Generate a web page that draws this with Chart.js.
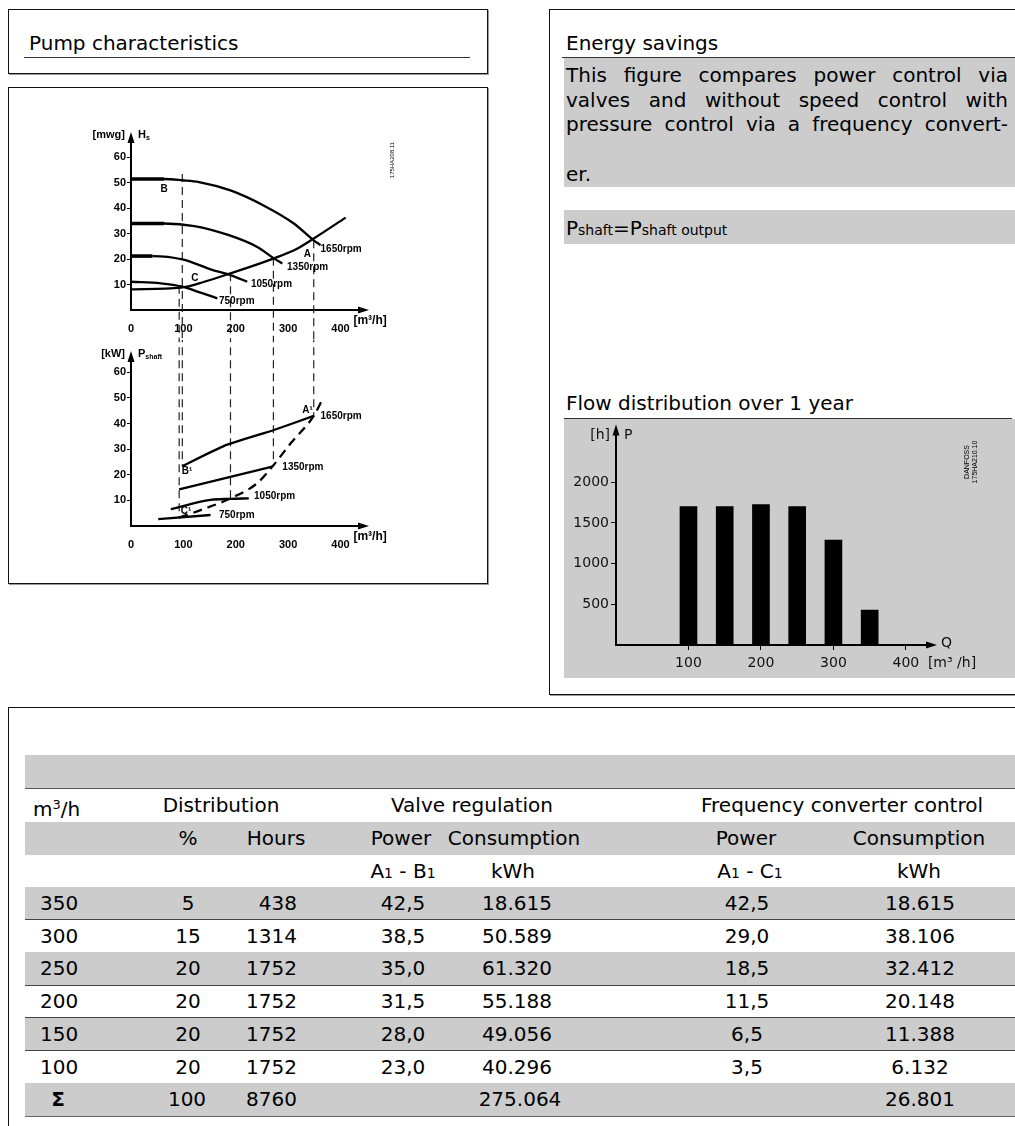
<!DOCTYPE html>
<html>
<head>
<meta charset="utf-8">
<script src="https://cdn.jsdelivr.net/npm/chart.js@4.4.1/dist/chart.umd.min.js"></script>
<style>
body { margin:0; background:#fff; font-family:"DejaVu Sans", Verdana, sans-serif; color:#000; width:1015px; height:1126px; overflow:hidden; position:relative; }
.box { position:absolute; border:1px solid #111; box-shadow:1px 1px 0 #999; }
.abs { position:absolute; white-space:nowrap; font-size:20px; line-height:24px; }
.just { position:absolute; font-size:20px; line-height:24px; text-align:justify; text-align-last:justify; }
.gray { position:absolute; background:#cccccc; }
.rule { position:absolute; height:1px; background:#333; }
.sm { font-size:14px; }
canvas { position:absolute; }
</style>
</head>
<body>

<div class="box" style="left:8px;top:9px;width:478px;height:63px"></div>
<div class="abs" style="left:29px;top:31px">Pump characteristics</div>
<div class="rule" style="left:24px;top:57px;width:446px"></div>

<div class="box" style="left:8px;top:87px;width:478px;height:495px"></div>
<canvas id="headChart" width="479" height="253" style="left:8px;top:87px"></canvas>
<canvas id="powerChart" width="479" height="243" style="left:8px;top:340px"></canvas>

<div class="box" style="left:549px;top:9px;width:480px;height:684px"></div>
<div class="abs" style="left:566px;top:31px">Energy savings</div>
<div class="rule" style="left:562px;top:57px;width:453px"></div>
<div class="gray" style="left:564px;top:58px;width:451px;height:129px"></div>
<div class="just" style="left:566px;top:63px;width:442px">This figure compares power control via</div>
<div class="just" style="left:566px;top:88px;width:442px">valves and without speed control with</div>
<div class="just" style="left:566px;top:112px;width:442px">pressure control via a frequency convert-</div>
<div class="abs" style="left:566px;top:162px">er.</div>
<div class="gray" style="left:564px;top:210px;width:451px;height:34px"></div>
<div class="abs" style="left:566px;top:216px">P<span class="sm">shaft</span>=P<span class="sm">shaft output</span></div>

<div class="abs" style="left:566px;top:391px">Flow distribution over 1 year</div>
<div class="rule" style="left:564px;top:418px;width:448px"></div>
<div class="gray" style="left:564px;top:419px;width:451px;height:259px"></div>
<canvas id="flowChart" width="451" height="259" style="left:564px;top:419px"></canvas>

<div class="box" style="left:8px;top:707px;width:1040px;height:460px"></div>
<div id="tbl"></div>

<script>
// pump head curves H [mwg] vs Q [m3/h]
const head1650 = [[0, 51.5], [63, 51.5], [98, 51], [130, 50.3], [190, 47], [254, 41], [311, 34], [349, 27.4], [362, 25.5]];
const head1350 = [[0, 34], [63, 34], [121, 33], [187, 29.4], [241, 24.8], [273, 20.3], [289, 18.3]];
const head1050 = [[0, 21.2], [41, 21.2], [98, 19.9], [152, 16], [190, 13.7], [222, 11.1]];
const head750 = [[0, 11.1], [57, 10.5], [98, 9.2], [133, 6.8], [165, 4.6]];
const systemHead = [[0, 8.1], [95, 8.8], [140, 11.1], [190, 14.4], [273, 20.3], [318, 24.2], [349, 28.1], [410, 36.3]];

// shaft power P [kW] vs Q [m3/h]
const power1650 = [[98, 23.4], [178, 31.3], [273, 37.5], [349, 43]];
const power1350 = [[92, 14.3], [270, 23.2]];
const power1050 = [[76, 6.6], [152, 10.2], [190, 10.6], [225, 10.8]];
const power750 = [[52, 2.7], [152, 4.3]];
const systemPower = [[92, 3.3], [133, 6.2], [190, 10.8], [241, 16.7], [270, 23.2], [305, 32.3], [349, 43], [367, 50]];

// operating points joined by the dashed verticals: [Q, H, P]
const opPoints = [[98, 53.5, 23.4], [92, 9.5, 3.3], [190, 14.4, 10.8], [272, 20.5, 23.2], [349, 27.4, 43]];

// axis ticks
const qTicks = [0, 100, 200, 300, 400];
const hTicks = [10, 20, 30, 40, 50, 60];
const flowQTicks = [100, 200, 300, 400];
const hourTicks = [500, 1000, 1500, 2000];

// flow distribution over 1 year
const flowQ = [100, 150, 200, 250, 300, 350];
const flowHours = [1700, 1700, 1725, 1700, 1290, 430];

// table
const tblFlow = ['350', '300', '250', '200', '150', '100'];
const tblPct = ['5', '15', '20', '20', '20', '20'];
const tblHours = ['438', '1314', '1752', '1752', '1752', '1752'];
const tblValvePower = ['42,5', '38,5', '35,0', '31,5', '28,0', '23,0'];
const tblValveKWh = ['18.615', '50.589', '61.320', '55.188', '49.056', '40.296'];
const tblFcPower = ['42,5', '29,0', '18,5', '11,5', '6,5', '3,5'];
const tblFcKWh = ['18.615', '38.106', '32.412', '20.148', '11.388', '6.132'];
const tblSum = ['100', '8760', '275.064', '26.801'];

const pts = arr => arr.map(p => ({ x: p[0], y: p[1] }));
const setTicks = list => s => { s.ticks = list.map(v => ({ value: v })); };
const chartFont = '"Liberation Sans", Arial, sans-serif';

function arrows(chart) {
    const ctx = chart.ctx, a = chart.chartArea;
    ctx.save();
    ctx.fillStyle = '#000';
    ctx.beginPath();
    ctx.moveTo(a.left, a.top - 5); ctx.lineTo(a.left - 3.5, a.top + 6); ctx.lineTo(a.left + 3.5, a.top + 6);
    ctx.fill();
    ctx.beginPath();
    ctx.moveTo(a.right + 5, a.bottom); ctx.lineTo(a.right - 6, a.bottom - 3.5); ctx.lineTo(a.right - 6, a.bottom + 3.5);
    ctx.fill();
    ctx.restore();
}

function tags(chart, list) {
    const ctx = chart.ctx, x = chart.scales.x, y = chart.scales.y;
    ctx.save();
    ctx.fillStyle = '#000';
    ctx.font = 'bold 10px ' + chartFont;
    ctx.textBaseline = 'middle';
    list.forEach(t => {
        ctx.textAlign = t[3] || 'center';
        ctx.fillText(t[0], x.getPixelForValue(t[1]), y.getPixelForValue(t[2]));
    });
    ctx.restore();
}

function vtext(ctx, lines, cx, cy, size) {
    ctx.save();
    ctx.translate(cx, cy);
    ctx.rotate(-Math.PI / 2);
    ctx.font = size + 'px ' + chartFont;
    ctx.fillStyle = '#000';
    ctx.textAlign = 'center';
    ctx.textBaseline = 'middle';
    lines.forEach((l, i) => ctx.fillText(l, 0, (i - (lines.length - 1) / 2) * (size + 1)));
    ctx.restore();
}

function curve(data, opts) {
    return Object.assign({ data: pts(data), borderColor: '#000', borderWidth: 2.3, pointRadius: 0, cubicInterpolationMode: 'monotone' }, opts || {});
}

function dashed(a, b, q) {
    return { data: [{ x: q, y: a }, { x: q, y: b }], borderColor: '#222', borderWidth: 1.2, borderDash: [8, 5], pointRadius: 0, clip: false };
}

const thickFlat = { segment: { borderWidth: c => c.p1.parsed.x <= 64 ? 3.6 : 2.3 } };

function pumpOptions(yMax, padTop, xHeight) {
    return {
        responsive: false, animation: false, events: [],
        layout: { padding: { top: padTop, right: 123, left: 0, bottom: 0 } },
        plugins: { legend: { display: false }, tooltip: { enabled: false } },
        scales: {
            x: {
                type: 'linear', min: 0, max: 445,
                grid: { display: false },
                border: { color: '#000', width: 2 },
                ticks: { color: '#000', padding: 4, maxRotation: 0, autoSkip: false, font: { family: chartFont, size: 11, weight: 'bold' }, callback: v => String(v) },
                afterBuildTicks: setTicks(qTicks),
                afterFit: s => { s.height = xHeight; }
            },
            y: {
                min: 0, max: yMax,
                grid: { drawOnChartArea: false, drawTicks: true, tickLength: 4, color: '#000', lineWidth: 1 },
                border: { color: '#000', width: 2 },
                ticks: { color: '#000', padding: 1, autoSkip: false, font: { family: chartFont, size: 11, weight: 'bold' }, callback: v => String(v) },
                afterBuildTicks: setTicks(hTicks),
                afterFit: s => { s.width = 123; }
            }
        }
    };
}

function unitLabel(chart, main, sub, unit) {
    const ctx = chart.ctx, a = chart.chartArea, x = chart.scales.x;
    ctx.save();
    ctx.fillStyle = '#000';
    ctx.textBaseline = 'middle';
    ctx.font = 'bold 11px ' + chartFont;
    ctx.textAlign = 'right';
    ctx.fillText(unit, a.left - 6, a.top - 2);
    ctx.textAlign = 'left';
    ctx.fillText(main, a.left + 7, a.top - 2);
    const w = ctx.measureText(main).width;
    ctx.font = 'bold 7px ' + chartFont;
    ctx.fillText(sub, a.left + 7 + w, a.top + 1);
    ctx.font = 'bold 12px ' + chartFont;
    ctx.fillText('[m\u00b3/h]', x.getPixelForValue(400) + 13, a.bottom + 11);
    ctx.restore();
}

new Chart(document.getElementById('headChart'), {
    type: 'line',
    data: {
        datasets: [
            curve(head1650, thickFlat), curve(head1350, thickFlat), curve(head1050, thickFlat),
            curve(head750), curve(systemHead)
        ].concat(opPoints.map(p => dashed(p[1], -30, p[0])))
    },
    options: pumpOptions(68, 50, 30),
    plugins: [{
        id: 'headDeco',
        afterDraw: c => {
            arrows(c);
            unitLabel(c, 'H', 's', '[mwg]');
            tags(c, [['B', 63, 47.3], ['A', 337, 22], ['C', 122, 12.4],
                ['1650rpm', 362, 23.8, 'left'], ['1350rpm', 298, 17, 'left'],
                ['1050rpm', 229, 10.2, 'left'], ['750rpm', 168, 3.3, 'left']]);
            vtext(c.ctx, ['175HA208.11'], 384, 73, 6);
        }
    }]
});

new Chart(document.getElementById('powerChart'), {
    type: 'line',
    data: {
        datasets: [
            curve(power1650, { cubicInterpolationMode: 'default', tension: 0.15 }), curve(power1350), curve(power1050), curve(power750),
            curve(systemPower, { borderDash: [9, 6], borderWidth: 2.3 })
        ].concat(opPoints.map(p => dashed(80, p[2], p[0])))
    },
    options: pumpOptions(66.4, 16, 57),
    plugins: [{
        id: 'powerDeco',
        afterDraw: c => {
            arrows(c);
            unitLabel(c, 'P', 'shaft', '[kW]');
            tags(c, [['A\u00b9', 337, 45.3], ['B\u00b9', 107, 21.2], ['C\u00b9', 105, 5.9],
                ['1650rpm', 362, 42.7, 'left'], ['1350rpm', 289, 22.9, 'left'],
                ['1050rpm', 235, 11.5, 'left'], ['750rpm', 168, 4.3, 'left']]);
        }
    }]
});

const flowFont = { family: '"DejaVu Sans", sans-serif', size: 14 };

new Chart(document.getElementById('flowChart'), {
    type: 'bar',
    data: {
        datasets: [{
            data: flowQ.map((q, i) => ({ x: q, y: flowHours[i] })),
            backgroundColor: '#000',
            borderWidth: 0,
            barThickness: 17
        }]
    },
    options: {
        responsive: false, animation: false, events: [],
        layout: { padding: { top: 8, right: 83, left: 0, bottom: 0 } },
        plugins: { legend: { display: false }, tooltip: { enabled: false } },
        scales: {
            x: {
                type: 'linear', min: 0, max: 436, offset: false,
                grid: { offset: false, drawOnChartArea: false, drawTicks: true, tickLength: 5, color: '#000' },
                border: { color: '#000', width: 2 },
                ticks: { color: '#111', padding: 5, maxRotation: 0, autoSkip: false, font: flowFont, callback: v => String(v) },
                afterBuildTicks: setTicks(flowQTicks),
                afterFit: s => { s.height = 33; }
            },
            y: {
                min: 0, max: 2650,
                grid: { drawOnChartArea: false, drawTicks: true, tickLength: 5, color: '#000' },
                border: { color: '#000', width: 2 },
                ticks: { color: '#111', padding: 2, autoSkip: false, font: flowFont, callback: v => String(v) },
                afterBuildTicks: setTicks(hourTicks),
                afterFit: s => { s.width = 52; }
            }
        }
    },
    plugins: [{
        id: 'flowDeco',
        afterDraw: c => {
            arrows(c);
            const ctx = c.ctx, a = c.chartArea, x = c.scales.x;
            ctx.save();
            ctx.fillStyle = '#111';
            ctx.font = '14px "DejaVu Sans", sans-serif';
            ctx.textBaseline = 'middle';
            ctx.textAlign = 'right';
            ctx.fillText('[h]', a.left - 6, a.top + 6);
            ctx.textAlign = 'left';
            ctx.fillText('P', a.left + 8, a.top + 6);
            ctx.fillText('Q', a.right + 9, a.bottom - 2);
            ctx.fillText('[m\u00b3 /h]', x.getPixelForValue(400) + 22, a.bottom + 18);
            ctx.restore();
            vtext(ctx, ['DANFOSS', '175HA210.10'], 407, 43, 7);
        }
    }]
});

// table
const tbl = document.getElementById('tbl');
const rowH = 32.7;

function band(top, h) {
    const d = document.createElement('div');
    d.className = 'gray';
    d.style.cssText = 'left:25px;width:990px;top:' + top + 'px;height:' + h + 'px';
    tbl.appendChild(d);
}
function line(top, color) {
    const d = document.createElement('div');
    d.className = 'rule';
    d.style.cssText = 'left:25px;width:990px;top:' + top + 'px;background:' + color;
    tbl.appendChild(d);
}
function txt(html, x, top, align, bold) {
    const d = document.createElement('div');
    d.className = 'abs';
    d.innerHTML = html;
    let tr = 'translateX(-50%)';
    if (align === 'left') tr = 'none';
    if (align === 'right') tr = 'translateX(-100%)';
    d.style.cssText = 'left:' + x + 'px;top:' + (top + 4) + 'px;transform:' + tr + (bold ? ';font-weight:bold' : '');
    tbl.appendChild(d);
}

band(755, 33);
line(788, '#555');
txt('m<span style="font-size:13px;vertical-align:7px">3</span>/h', 33, 789, 'left');
txt('Distribution', 221, 789);
txt('Valve regulation', 472, 789);
txt('Frequency converter control', 842, 789);
band(822, 33);
txt('%', 188, 822);
txt('Hours', 276, 822);
txt('Power', 401, 822);
txt('Consumption', 514, 822);
txt('Power', 746, 822);
txt('Consumption', 919, 822);
const sub1 = '<span class="sm">1</span>';
txt('A' + sub1 + ' - B' + sub1, 403, 855);
txt('kWh', 513, 855);
txt('A' + sub1 + ' - C' + sub1, 750, 855);
txt('kWh', 919, 855);

tblFlow.forEach((f, i) => {
    const top = 887 + i * rowH;
    if (i % 2 === 0) band(top, rowH);
    line(top + rowH - 0.5, '#444');
    txt(f, 40, top, 'left');
    txt(tblPct[i], 188, top);
    txt(tblHours[i], 297, top, 'right');
    txt(tblValvePower[i], 403, top);
    txt(tblValveKWh[i], 517, top);
    txt(tblFcPower[i], 747, top);
    txt(tblFcKWh[i], 920, top);
});
const sumTop = 887 + 6 * rowH;
band(sumTop, rowH);
line(sumTop + rowH, '#666');
txt('\u03a3', 58, sumTop, 'center', true);
txt(tblSum[0], 187, sumTop);
txt(tblSum[1], 297, sumTop, 'right');
txt(tblSum[2], 520, sumTop);
txt(tblSum[3], 920, sumTop);
</script>
</body>
</html>
